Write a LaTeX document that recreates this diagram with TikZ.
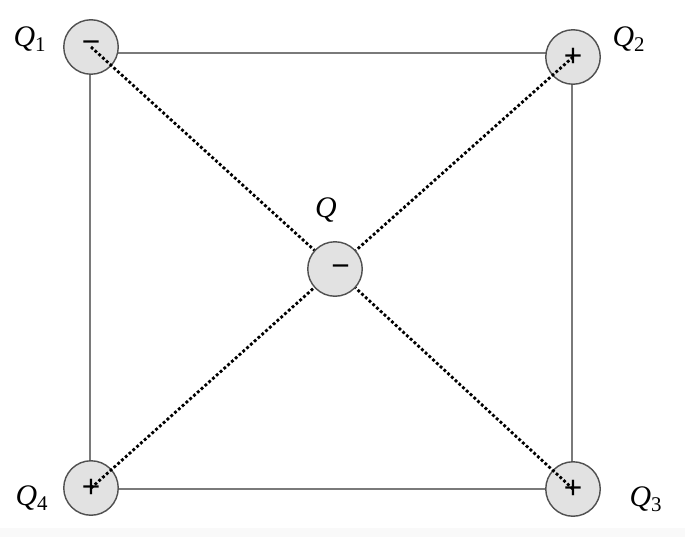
\documentclass[tikz,border=0pt]{standalone}
\usepackage{fontspec}
\setmainfont{Liberation Serif}
\newfontfamily\signfont{Liberation Sans}
\usepackage{tikz}
\usetikzlibrary{positioning}

\definecolor{chargefill}{HTML}{E2E2E2}
\definecolor{chargeedge}{HTML}{505050}
\definecolor{sideline}{HTML}{7A7A7A}

\tikzset{
	charge/.style={circle, draw=chargeedge, line width=0.8pt, fill=chargefill, minimum size=1.09cm, inner sep=0pt, font=\signfont\fontsize{18}{18}\selectfont},
	side/.style={draw=sideline, line width=0.6pt},
	dotline/.style={line width=1.6pt, dash pattern=on 1.6pt off 1.3pt},
	qlabel/.style={inner sep=0pt, font=\fontsize{17}{18}\selectfont\itshape}
}

\begin{document}
\begin{tikzpicture}[x=0.02cm, y=-0.02cm]
				% Frame and background:
				\useasboundingbox (0, 0) rectangle (685, 537);
				\fill[white] (0, 0) rectangle (685, 537);
				\fill[gray!5] (0, 528) rectangle (685, 537);
				% Corners of the square:
				\coordinate (c1) at (90, 53);
				\coordinate (c2) at (572, 53);
				\coordinate (c3) at (572, 489);
				\coordinate (c4) at (90, 489);
				\draw[side] (c1) -- (c2) -- (c3) -- (c4) -- cycle;
				% Charges:
				\node[charge] (q1) at (91, 47){−};
				\node[charge] (q2) at (573, 57){+};
				\node[charge] (q3) at (573, 489){+};
				\node[charge] (q4) at (91, 488){+};
				\node[charge, label={[font=\signfont\fontsize{18}{18}\selectfont, xshift=0.11cm, yshift=-0.04cm]center:−}] (q) at (335, 269){};
				% Dotted diagonals:
				\draw[dotline] (q1.center) -- (q);
				\draw[dotline] (q2.center) -- (q);
				\draw[dotline] (q3.center) -- (q);
				\draw[dotline] (q4.center) -- (q);
				% Labels:
				\node[qlabel] (l1) at (30, 39){Q\textsubscript{\upshape 1}};
				\node[qlabel] (l2) at (629, 39){Q\textsubscript{\upshape 2}};
				\node[qlabel] (l3) at (646, 499){Q\textsubscript{\upshape 3}};
				\node[qlabel] (l4) at (32, 498){Q\textsubscript{\upshape 4}};
				\node[qlabel] (l0) at (326, 210){Q};
			\end{tikzpicture}
\end{document}
